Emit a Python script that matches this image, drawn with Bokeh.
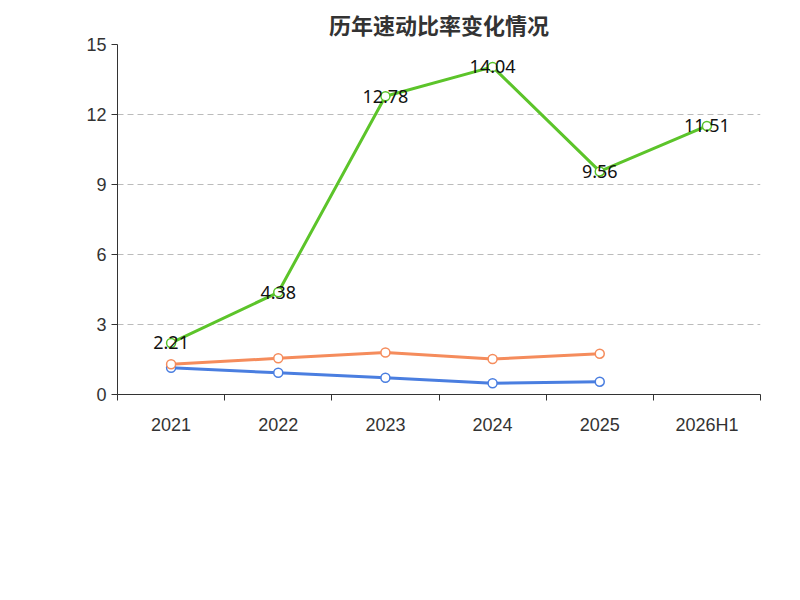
from bokeh.plotting import figure
from bokeh.models import FixedTicker, Legend, LegendItem, Title, ColumnDataSource, Range1d
from bokeh.embed import file_html
from bokeh.resources import INLINE
from bokeh.core.properties import value

years = ["2021", "2022", "2023", "2024", "2025", "2026H1"]
quick = [2.21, 4.38, 12.78, 14.04, 9.56, 11.51]
ind_avg = [1.15, 0.93, 0.72, 0.48, 0.55]
ind_med = [1.30, 1.55, 1.80, 1.52, 1.75]

xs = [i + 0.5 for i in range(len(years))]

p = figure(frame_width=643, frame_height=350, output_backend="svg", toolbar_location=None,
           x_range=Range1d(0, 6), y_range=Range1d(0, 15),
           min_border_left=117, min_border_right=24, min_border_top=40, min_border_bottom=0)
p.title.text = "历年速动比率变化情况"
p.title.align = "center"
p.title.text_font = "Noto Sans CJK SC"
p.title.text_font_size = "22px"
p.title.text_color = "#333333"
p.outline_line_color = None
p.xgrid.grid_line_color = None
p.ygrid.grid_line_dash = "6 4"
p.ygrid.grid_line_color = "#bbbbbb"

p.yaxis.ticker = FixedTicker(ticks=[0, 3, 6, 9, 12, 15])
p.yaxis.major_label_text_font_size = "18px"
p.yaxis.major_label_text_color = "#333333"
p.yaxis.axis_line_color = "#333333"
p.yaxis.major_tick_line_color = "#333333"
p.yaxis.major_tick_in = 0
p.yaxis.major_tick_out = 6
p.yaxis.minor_tick_line_color = None

p.xaxis.ticker = FixedTicker(ticks=xs, minor_ticks=list(range(7)))
p.xaxis.major_label_overrides = {x: y for x, y in zip(xs, years)}
p.xaxis.major_tick_out = 0
p.xaxis.major_tick_in = 0
p.xaxis.minor_tick_out = 6
p.xaxis.minor_tick_in = 0
p.xaxis.minor_tick_line_color = "#333333"
p.xaxis.axis_line_color = "#333333"
p.xaxis.major_label_text_font_size = "18px"
p.xaxis.major_label_text_color = "#333333"
p.xaxis.major_label_standoff = 14

items = []
for data, color, name in [(quick, "#5cc42a", "速动比率"), (ind_avg, "#4a7ee0", "行业均值"), (ind_med, "#f58c5c", "行业中位数")]:
    x = xs[:len(data)]
    l = p.line(x, data, line_color=color, line_width=3)
    c = p.scatter(x, data, size=9, fill_color="white", line_color=color, line_width=1.5)
    items.append(LegendItem(label=name, renderers=[l, c]))

src = ColumnDataSource(dict(x=xs, y=quick, t=[f"{v:.2f}" for v in quick]))
p.text("x", "y", text="t", source=src, text_align="center", text_baseline="middle",
       text_font_size="18px", text_color="#111111", text_font=value("Noto Sans"))

leg = Legend(items=items, orientation="horizontal", location="center",
             label_text_font="Noto Sans CJK SC", label_text_font_size="18px",
             label_text_color="#333333", glyph_width=48, spacing=20, border_line_color=None,
             margin=25)
p.add_layout(leg, "below")
p.add_layout(Title(text="制图数据来自恒生聚源数据库", align="center", text_color="#c8961e",
                   text_font="Noto Sans CJK SC", text_font_size="14px", text_font_style="normal"), "below")

open("out.html", "w").write(file_html(p, INLINE))
